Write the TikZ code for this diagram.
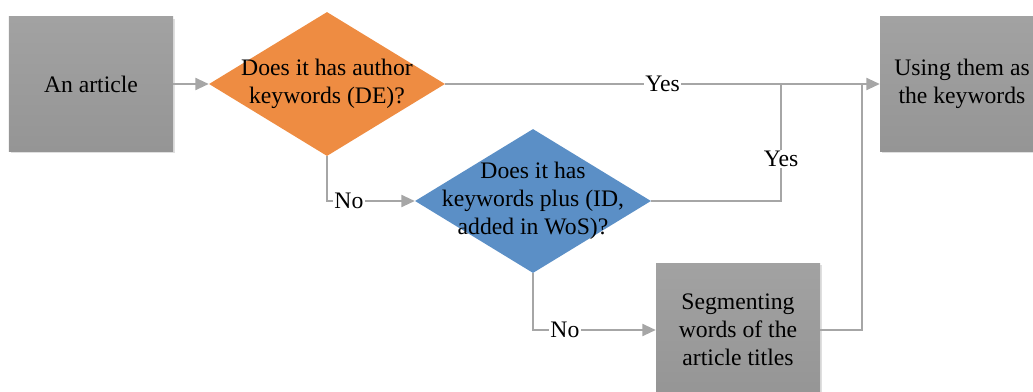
\documentclass[tikz,border=0pt]{standalone}
\usepackage{fontspec}
\setmainfont{Liberation Serif}
\usepackage{tikz}
\usetikzlibrary{shapes.geometric, arrows.meta, shadows, calc, positioning}

\definecolor{boxgray}{HTML}{A2A2A2}
\definecolor{boxgraydark}{HTML}{959595}
\definecolor{deorange}{HTML}{EE8C42}
\definecolor{kpblue}{HTML}{5B8FC6}
\definecolor{linegray}{HTML}{A6A6A6}

\begin{document}
\begin{tikzpicture}[
                x = 0.03cm, y = -0.03cm,
                font=\rmfamily\fontsize{20.2}{24}\selectfont,
                stepbox/.style={rectangle, minimum width=4.92cm, minimum height=4.02cm,
                    top color=boxgray, bottom color=boxgraydark, align=center,
                    drop shadow={shadow xshift=0.06cm, shadow yshift=-0.06cm, opacity=0.25}},
                question/.style={diamond, minimum width=7.08cm, minimum height=4.32cm, inner sep=0pt},
                qtext/.style={align=center, inner sep=0pt},
                conn/.style={draw=linegray, line width=1.6pt},
                arrow/.style={conn, -{Triangle[length=0.4cm, width=0.36cm]}},
                answer/.style={fill=white, inner sep=1pt}
            ]

            \useasboundingbox (0,0) rectangle (1033,392);

            % Boxes
            \node[stepbox] (article) at (91,84) {An article};
            \node[stepbox] (using) at (962,84) {Using them as\\the keywords};
            \node[stepbox] (segment) at (738,330) {Segmenting\\words of the\\article titles};

            % Questions
            \node[question, fill=deorange,
                label={[qtext]center:{Does it has author\\keywords (DE)?}}] (de) at (327,84) {};
            \node[question, fill=kpblue,
                label={[qtext]center:{Does it has\\keywords plus (ID,\\added in WoS)?}}] (kp) at (533,201) {};

            % Joints on the Yes line
            \coordinate (join-1) at (781,84);
            \coordinate (join-2) at (862,84);

            % Connections
            \draw[arrow] (article) -- (de);
            \draw[arrow] (de.east) -- node[answer]{Yes} (using.west);
            \draw[arrow] (de.south) |- node[answer, pos=0.625]{No} (kp.west);
            \draw[arrow] (kp.south) |- node[answer, pos=0.63]{No} (segment.west);
            \draw[conn] (kp.east) -| node[answer, pos=0.68]{Yes} (join-1);
            \draw[conn] (segment.east) -| (join-2);

        \end{tikzpicture}
\end{document}
